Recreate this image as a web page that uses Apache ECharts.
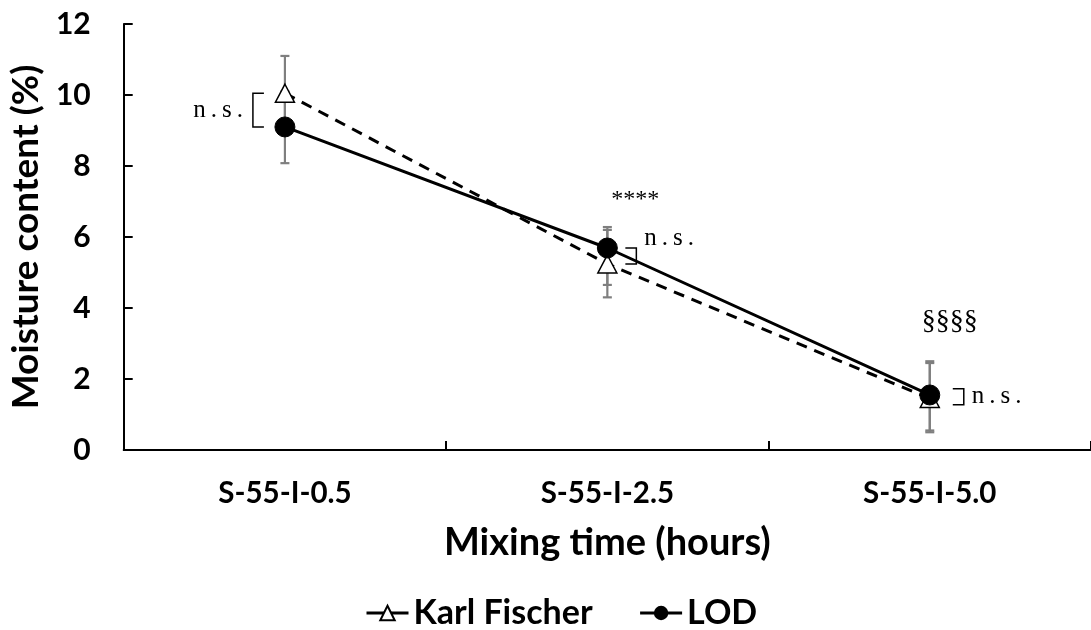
<!DOCTYPE html>
<html>
<head>
<meta charset="utf-8">
<script src="https://cdn.jsdelivr.net/npm/echarts@6/dist/echarts.min.js"></script>
<style>
html,body{margin:0;padding:0;background:#fff;}
#chart{width:1091px;height:630px;}
</style>
</head>
<body>
<div id="chart"></div>
<script>
const categories = ['S-55-I-0.5', 'S-55-I-2.5', 'S-55-I-5.0'];
const kfValues = [10.05, 5.24, 1.45];
const kfLow = [9.0, 4.3, 0.5];
const kfHigh = [11.1, 6.2, 2.45];
const lodValues = [9.1, 5.69, 1.55];
const lodLow = [8.08, 4.65, 0.55];
const lodHigh = [10.1, 6.28, 2.5];
const sigLabels = ['', '****', '§§§§'];
const pairLabels = ['n.s.', 'n.s.', 'n.s.'];
const yMin = 0, yMax = 12, yStep = 2;

const FONT = 'Lato, "Open Sans", sans-serif';
const SERIF = '"Liberation Serif", "DejaVu Serif", serif';

// style config (not data)
const bracketSide = ['left', 'right', 'right'];
const nsDy = [0, -18, 0];
const sigDy = [0, -27, -40];
const sigSize = [24, 24, 28];

const chart = echarts.init(document.getElementById('chart'));

const errData = categories.map((c, i) => [i, kfLow[i], kfHigh[i], lodLow[i], lodHigh[i]]);
const annData = categories.map((c, i) => [i, kfValues[i], lodValues[i], Math.max(kfHigh[i], lodHigh[i])]);

function errItem(params, api) {
  const i = api.value(0);
  const children = [];
  const pairs = [[api.value(1), api.value(2)], [api.value(3), api.value(4)]];
  const style = { stroke: '#7f7f7f', lineWidth: 2.2 };
  pairs.forEach(p => {
    const a = api.coord([i, p[0]]);
    const b = api.coord([i, p[1]]);
    children.push({ type: 'line', shape: { x1: a[0], y1: a[1], x2: b[0], y2: b[1] }, style });
    children.push({ type: 'line', shape: { x1: a[0] - 4.5, y1: a[1], x2: a[0] + 4.5, y2: a[1] }, style });
    children.push({ type: 'line', shape: { x1: b[0] - 4.5, y1: b[1], x2: b[0] + 4.5, y2: b[1] }, style });
  });
  return { type: 'group', children };
}

function annItem(params, api) {
  const i = api.value(0);
  const p = api.coord([i, api.value(1)]);
  const q = api.coord([i, api.value(2)]);
  const top = api.coord([i, api.value(3)]);
  const cx = p[0];
  let y1 = Math.min(p[1], q[1]);
  let y2 = Math.max(p[1], q[1]);
  if (y2 - y1 < 16) { const m = (y1 + y2) / 2; y1 = m - 8; y2 = m + 8; }
  const mid = (y1 + y2) / 2;
  const children = [];
  const bStyle = { stroke: '#000', lineWidth: 1.5, fill: null };
  const nsText = pairLabels[i].split('').join('\u2009');
  if (bracketSide[i] === 'left') {
    children.push({ type: 'polyline', shape: { points: [[cx - 21, y1], [cx - 32, y1], [cx - 32, y2], [cx - 21, y2]] }, style: bStyle });
    children.push({ type: 'text', style: { text: nsText, x: cx - 42, y: mid + nsDy[i], align: 'right', verticalAlign: 'middle', font: '25px ' + SERIF, fill: '#000' } });
  } else {
    const off = i === 1 ? 18 : 23;
    children.push({ type: 'polyline', shape: { points: [[cx + off, y1], [cx + off + 11, y1], [cx + off + 11, y2], [cx + off, y2]] }, style: bStyle });
    children.push({ type: 'text', style: { text: nsText, x: cx + off + 19, y: mid + nsDy[i], align: 'left', verticalAlign: 'middle', font: '25px ' + SERIF, fill: '#000' } });
  }
  if (sigLabels[i]) {
    children.push({ type: 'text', style: { text: sigLabels[i], x: cx + (i === 1 ? 28 : 20), y: top[1] + sigDy[i], align: 'center', verticalAlign: 'middle', font: sigSize[i] + 'px ' + SERIF, fill: '#000' } });
  }
  return { type: 'group', children };
}

chart.setOption({
  animation: false,
  backgroundColor: '#fff',
  grid: { left: 123, top: 24, width: 973, height: 426, containLabel: false },
  legend: {
    left: 360, top: 591,
    itemWidth: 42, itemHeight: 18, itemGap: 46,
    lineStyle: { type: 'solid', width: 3 },
    textStyle: { fontFamily: FONT, fontWeight: 'bold', fontSize: 34, color: '#000' },
    data: ['Karl Fischer', 'LOD']
  },
  xAxis: {
    type: 'category',
    data: categories,
    boundaryGap: true,
    name: 'Mixing time (hours)',
    nameLocation: 'middle',
    nameGap: 74,
    nameTextStyle: { fontFamily: FONT, fontWeight: 'bold', fontSize: 38, color: '#000' },
    axisLine: { lineStyle: { color: '#000', width: 2 } },
    axisTick: { show: true, inside: true, length: 9, lineStyle: { color: '#000', width: 2 } },
    axisLabel: { fontFamily: FONT, fontWeight: 'bold', fontSize: 29.5, color: '#000', margin: 28 },
    splitLine: { show: false }
  },
  yAxis: {
    type: 'value',
    min: yMin, max: yMax, interval: yStep,
    name: 'Moisture content (%)',
    nameLocation: 'middle',
    nameGap: 73,
    nameTextStyle: { fontFamily: FONT, fontWeight: 'bold', fontSize: 37, color: '#000' },
    axisLine: { show: true, lineStyle: { color: '#000', width: 2 } },
    axisTick: { show: true, inside: true, length: 9, lineStyle: { color: '#000', width: 2 } },
    axisLabel: { fontFamily: FONT, fontWeight: 'bold', fontSize: 30, color: '#000', margin: 33 },
    splitLine: { show: false }
  },
  series: [
    {
      name: 'errors', type: 'custom', renderItem: errItem, data: errData, z: 1, silent: true,
      encode: { x: 0, y: [1, 2, 3, 4] }
    },
    {
      name: 'Karl Fischer', type: 'line', data: kfValues, z: 3,
      symbol: 'triangle', symbolSize: [19, 18],
      lineStyle: { color: '#000', width: 3, type: [11, 8] },
      itemStyle: { color: '#fff', borderColor: '#000', borderWidth: 1.5 }
    },
    {
      name: 'LOD', type: 'line', data: lodValues, z: 4,
      symbol: 'circle', symbolSize: 20,
      lineStyle: { color: '#000', width: 3 },
      itemStyle: { color: '#000', borderColor: '#000' }
    },
    {
      name: 'annotations', type: 'custom', renderItem: annItem, data: annData, z: 5, silent: true,
      encode: { x: 0, y: [1, 2, 3] }
    }
  ]
});
</script>
</body>
</html>
